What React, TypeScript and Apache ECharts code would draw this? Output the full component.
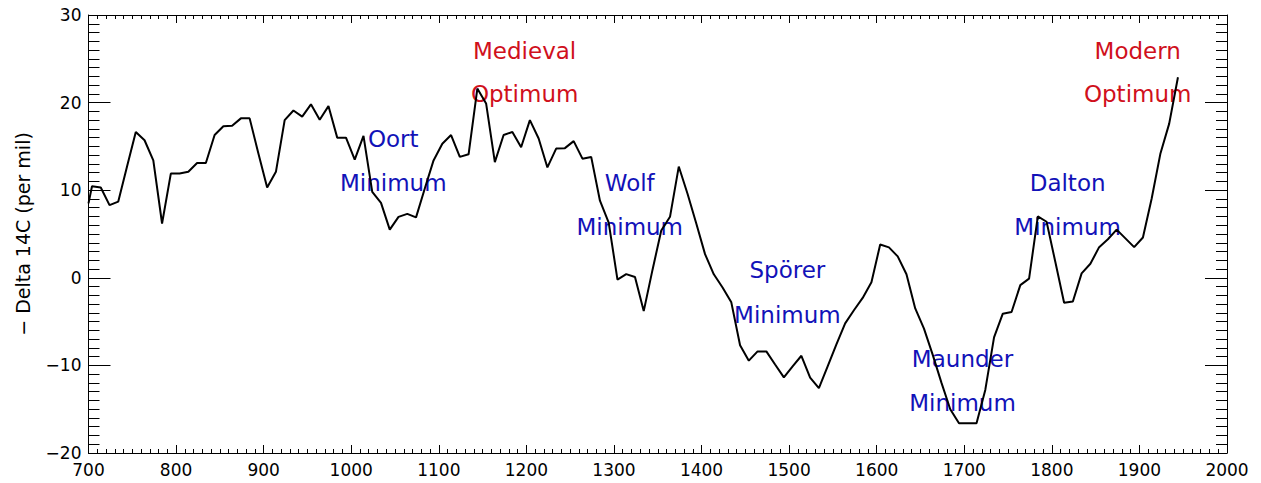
import React, { useEffect, useRef } from "react";
import * as echarts from "echarts";

// Record: year (x) and "- Delta 14C" (per mil) values
const years: number[] = [
  700, 704, 714, 724, 734, 744, 754, 764, 774, 784, 794, 804, 814, 824, 834, 844, 854, 864, 874, 884, 894,
  904, 914, 924, 934, 944, 954, 964, 974, 984, 994, 1004, 1014, 1024, 1034, 1044, 1054, 1064, 1074, 1084, 1094,
  1104, 1114, 1124, 1134, 1144, 1154, 1164, 1174, 1184, 1194, 1204, 1214, 1224, 1234, 1244, 1254, 1264, 1274,
  1284, 1294, 1304, 1314, 1324, 1334, 1344, 1354, 1364, 1374, 1384, 1394, 1404, 1414, 1424, 1434, 1444, 1454,
  1464, 1474, 1484, 1494, 1504, 1514, 1524, 1534, 1544, 1554, 1564, 1574, 1584, 1594, 1604, 1614, 1624, 1634,
  1644, 1654, 1664, 1674, 1684, 1694, 1704, 1714, 1724, 1734, 1744, 1754, 1764, 1774, 1784, 1794, 1804, 1814,
  1824, 1834, 1844, 1854, 1864, 1874, 1884, 1894, 1904, 1914, 1924, 1934, 1944,
];
const delta14C: number[] = [
  8.5, 10.45, 10.3, 8.3, 8.7, 12.7, 16.65, 15.7, 13.4, 6.2, 11.9, 11.9, 12.1, 13.1, 13.1, 16.3, 17.3, 17.35, 18.2, 18.2, 14.2,
  10.3, 12.1, 18.0, 19.1, 18.4, 19.8, 18.05, 19.6, 16.0, 16.0, 13.5, 16.2, 9.8, 8.55, 5.5, 6.96, 7.3, 6.9, 10.2, 13.4,
  15.3, 16.3, 13.8, 14.1, 21.6, 19.9, 13.2, 16.3, 16.65, 14.9, 18.0, 15.9, 12.6, 14.75, 14.8, 15.6, 13.6, 13.8,
  8.8, 6.3, -0.2, 0.42, 0.1, -3.8, 0.9, 5.4, 6.96, 12.7, 9.6, 6.2, 2.7, 0.4, -1.1, -2.8, -7.7, -9.46,
  -8.4, -8.4, -9.9, -11.36, -10.1, -8.9, -11.4, -12.6, -10.1, -7.6, -5.2, -3.7, -2.3, -0.5, 3.8, 3.47, 2.45, 0.4,
  -3.5, -5.8, -8.8, -12.0, -15.0, -16.6, -16.6, -16.6, -12.8, -6.8, -4.1, -3.9, -0.83, -0.1, 7.0, 6.4, 1.8, -2.85,
  -2.7, 0.5, 1.6, 3.5, 4.4, 5.5, 4.5, 3.5, 4.6, 9.05, 14.2, 17.6, 22.9,
];

// Annotations (text, anchor year, anchor value, colour)
const annotationTexts: string[] = [
  "Medieval", "Optimum", "Oort", "Minimum", "Wolf", "Minimum", "Spörer", "Minimum",
  "Maunder", "Minimum", "Dalton", "Minimum", "Modern", "Optimum",
];
const annotationYears: number[] = [1198, 1198, 1048, 1048, 1318, 1318, 1498, 1498, 1698, 1698, 1818, 1818, 1898, 1898];
const annotationValues: number[] = [25.85, 20.95, 15.9, 10.85, 10.85, 5.85, 0.85, -4.25, -9.25, -14.25, 10.85, 5.85, 25.85, 20.95];
const annotationColors: string[] = [
  "#D0101C", "#D0101C", "#1212B8", "#1212B8", "#1212B8", "#1212B8", "#1212B8", "#1212B8",
  "#1212B8", "#1212B8", "#1212B8", "#1212B8", "#D0101C", "#D0101C",
];

const xMin = 700;
const xMax = 2000;
const xStep = 100;
const yMin = -20;
const yMax = 30;
const yStep = 10;
const yTitle = "\u2212 Delta 14C (per mil)";

const FONT = "DejaVu Sans";

export default function App() {
  const ref = useRef<HTMLDivElement>(null);
  useEffect(() => {
    if (!ref.current) return;
    const chart = echarts.init(ref.current, undefined, { renderer: "svg" });
    const lineData = years.map((y, i) => [y, delta14C[i]]);
    const annData = annotationTexts.map((t, i) => ({
      name: t,
      value: [annotationYears[i], annotationValues[i]],
      label: { color: annotationColors[i] },
    }));
    const axisLine = { show: true, onZero: false, lineStyle: { color: "#000", width: 1 } };
    const xCommon = {
      type: "value" as const,
      min: xMin,
      max: xMax,
      interval: xStep,
      axisLine,
      axisTick: { show: true, inside: true, length: 8, lineStyle: { color: "#000" } },
      minorTick: { show: true, splitNumber: 10, length: 4, lineStyle: { color: "#000" } },
      splitLine: { show: false },
      minorSplitLine: { show: false },
    };
    const yCommon = {
      type: "value" as const,
      min: yMin,
      max: yMax,
      interval: yStep,
      axisLine,
      axisTick: { show: true, inside: true, length: 22, lineStyle: { color: "#000" } },
      minorTick: { show: true, splitNumber: 10, length: 11, lineStyle: { color: "#000" } },
      splitLine: { show: false },
      minorSplitLine: { show: false },
    };
    chart.setOption({
      animation: false,
      backgroundColor: "#fff",
      grid: { left: 88.5, right: 34, top: 15, bottom: 30, containLabel: false },
      xAxis: [
        {
          ...xCommon,
          position: "bottom",
          axisLabel: {
            show: true,
            fontFamily: FONT,
            fontSize: 17,
            color: "#000",
            margin: 8,
            formatter: (v: number) => String(v),
          },
        },
        { ...xCommon, position: "top", axisLabel: { show: false } },
      ],
      yAxis: [
        {
          ...yCommon,
          position: "left",
          name: yTitle,
          nameLocation: "middle",
          nameGap: 56,
          nameRotate: 90,
          nameTextStyle: { fontFamily: FONT, fontSize: 19, color: "#000" },
          axisLabel: {
            show: true,
            fontFamily: FONT,
            fontSize: 17,
            color: "#000",
            margin: 7,
            formatter: (v: number) => String(v).replace("-", "\u2212"),
          },
        },
        { ...yCommon, position: "right", axisLabel: { show: false } },
      ],
      series: [
        {
          type: "line",
          data: lineData,
          xAxisIndex: 0,
          yAxisIndex: 0,
          showSymbol: false,
          symbol: "none",
          lineStyle: { color: "#000", width: 2 },
          clip: true,
          silent: true,
          z: 3,
        },
        {
          type: "scatter",
          data: annData,
          xAxisIndex: 0,
          yAxisIndex: 0,
          symbolSize: 0,
          silent: true,
          itemStyle: { opacity: 1 },
          z: 2,
          label: {
            show: true,
            position: "inside",
            formatter: (p: any) => p.name,
            fontFamily: FONT,
            fontSize: 23,
            opacity: 1,
            align: "center",
            verticalAlign: "middle",
          },
        },
      ],
    });
    return () => chart.dispose();
  }, []);
  return (
    <div
      ref={ref}
      style={{ position: "absolute", left: 0, top: 0, width: 1261, height: 483, background: "#fff" }}
    />
  );
}
